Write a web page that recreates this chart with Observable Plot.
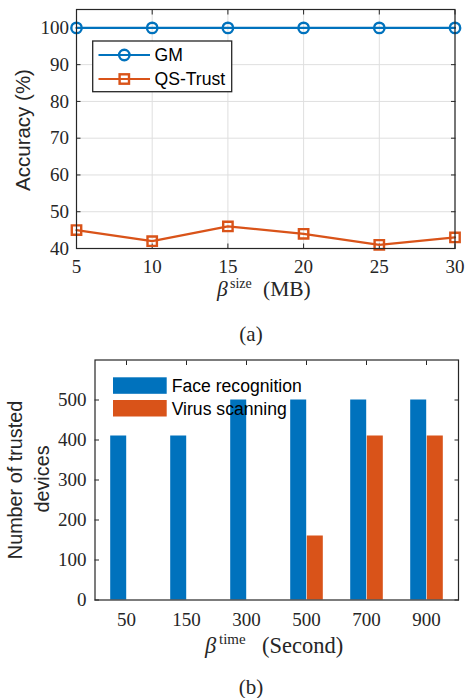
<!DOCTYPE html>
<html><head><meta charset="utf-8">
<script src="https://cdn.jsdelivr.net/npm/d3@7"></script>
<script src="https://cdn.jsdelivr.net/npm/@observablehq/plot@0.6"></script>
<style>
html,body{margin:0;padding:0;background:#fff}
body{width:465px;height:698px;position:relative;overflow:hidden}
#a{position:absolute;left:0;top:0}
#b{position:absolute;left:0;top:340px}
.cap{position:absolute;z-index:5;left:232px;width:38px;text-align:center;font-family:"Liberation Serif",serif;font-size:21px;line-height:24px;color:#262626}
svg text{fill:#262626}
</style></head>
<body>
<div id="a"></div>
<div id="b"></div>
<div class="cap" style="top:322px">(a)</div>
<div class="cap" style="top:675px">(b)</div>
<script>
// ---- data: chart (a)
const sizes = [5, 10, 15, 20, 25, 30];
const gmAccuracy = [100, 100, 100, 100, 100, 100];
const qsAccuracy = [45, 42, 46, 44, 41, 43];
const yTicksA = [40, 50, 60, 70, 80, 90, 100];
const seriesA = ["GM", "QS-Trust"];
// ---- data: chart (b)
const times = ["50", "150", "300", "500", "700", "900"];
const faceRecognition = [410, 410, 500, 500, 500, 500];
const virusScanning = [0, 0, 0, 160, 410, 410];
const yTicksB = [0, 100, 200, 300, 400, 500];
const seriesB = ["Face recognition", "Virus scanning"];

const blue = "#0072BD", orange = "#D95319", ink = "#262626";
const serif = "Liberation Serif, serif", sans = "Liberation Sans, Arial, sans-serif";

function betaLabel(s, x0, y, main, sup, unit, supStart, unitStart, fs, sfs, rise) {
  s.append("text").attr("x", x0).attr("y", y).attr("text-anchor", "start")
    .attr("font-family", serif).attr("font-size", fs).attr("font-style", "italic").text(main);
  s.append("text").attr("x", supStart).attr("y", y - rise).attr("text-anchor", "start")
    .attr("font-family", serif).attr("font-size", sfs).text(sup);
  s.append("text").attr("x", unitStart).attr("y", y).attr("text-anchor", "start")
    .attr("font-family", serif).attr("font-size", fs).text(unit);
}

// ===== Chart (a)
const gm = sizes.map((s, i) => ({x: s, y: gmAccuracy[i]}));
const qs = sizes.map((s, i) => ({x: s, y: qsAccuracy[i]}));
const chartA = Plot.plot({
  width: 465, height: 305,
  marginLeft: 76, marginRight: 10.5, marginTop: 9, marginBottom: 57,
  x: {domain: [5, 30], label: null},
  y: {domain: [40, 105], label: null},
  style: {fontFamily: serif, fontSize: "19px", color: ink, background: "transparent", overflow: "visible"},
  marks: [
    Plot.gridX(sizes, {stroke: "#dfdfdf", strokeOpacity: 1}),
    Plot.gridY(yTicksA, {stroke: "#dfdfdf", strokeOpacity: 1}),
    Plot.axisX(sizes, {anchor: "bottom", tickSize: -4.5, tickPadding: 15.5, label: null, stroke: ink}),
    Plot.axisX(sizes, {anchor: "top", tickSize: -4.5, tickFormat: () => "", label: null, stroke: ink}),
    Plot.axisY(yTicksA, {anchor: "left", tickSize: -4.5, tickPadding: 12, label: null, stroke: ink}),
    Plot.axisY(yTicksA, {anchor: "right", tickSize: -4.5, tickFormat: () => "", label: null, stroke: ink}),
    Plot.line(gm, {x: "x", y: "y", stroke: blue, strokeWidth: 2.2}),
    Plot.dot(gm, {x: "x", y: "y", stroke: blue, strokeWidth: 2.4, r: 5.2, fill: "none"}),
    Plot.line(qs, {x: "x", y: "y", stroke: orange, strokeWidth: 2.2}),
    Plot.dot(qs, {x: "x", y: "y", symbol: "square", stroke: orange, strokeWidth: 2.4, r: 5.3, fill: "none"}),
    Plot.frame({stroke: ink, strokeWidth: 1.2})
  ]
});
{
  const s = d3.select(chartA);
  s.append("text").attr("transform", "translate(22,130) rotate(-90)")
    .attr("text-anchor", "middle").attr("dominant-baseline", "central")
    .attr("font-family", sans).attr("font-size", 20.5).text("Accuracy (%)");
  betaLabel(s, 217, 296, "β", "size", "(MB)", 230, 263, 21.5, 14, 8);
  const g = s.append("g");
  g.append("rect").attr("x", 92.7).attr("y", 41).attr("width", 139).attr("height", 50.7)
    .attr("fill", "white").attr("stroke", ink).attr("stroke-width", 1.3);
  const rows = [{y: 55, c: blue, sym: "circle"}, {y: 79, c: orange, sym: "square"}];
  rows.forEach((r, i) => {
    g.append("line").attr("x1", 98.5).attr("x2", 150).attr("y1", r.y).attr("y2", r.y)
      .attr("stroke", r.c).attr("stroke-width", 2.2);
    if (r.sym === "circle") g.append("circle").attr("cx", 124.3).attr("cy", r.y).attr("r", 5.2)
      .attr("fill", "none").attr("stroke", r.c).attr("stroke-width", 2.4);
    else g.append("rect").attr("x", 124.3 - 4.7).attr("y", r.y - 4.7).attr("width", 9.4).attr("height", 9.4)
      .attr("fill", "none").attr("stroke", r.c).attr("stroke-width", 2.4);
    g.append("text").attr("x", 154.5).attr("y", r.y).attr("text-anchor", "start").attr("dominant-baseline", "central")
      .attr("font-family", sans).attr("font-size", 17.6).style("fill", "#000").text(seriesA[i]);
  });
}
document.getElementById("a").append(chartA);

// ===== Chart (b)
const faceBars = times.map((t, i) => ({time: t, value: faceRecognition[i]}));
const virusBars = times.map((t, i) => ({time: t, value: virusScanning[i]}));
const chartB = Plot.plot({
  width: 465, height: 325,
  marginLeft: 94.5, marginRight: 7, marginTop: 19.5, marginBottom: 65.5,
  x: {domain: times, padding: 0, label: null},
  y: {domain: [0, 600], label: null},
  style: {fontFamily: serif, fontSize: "19px", color: ink, background: "transparent", overflow: "visible"},
  marks: [
    Plot.barY(faceBars, {x: "time", y: "value", fill: blue, insetLeft: 14.2, insetRight: 29.8}),
    Plot.barY(virusBars, {x: "time", y: "value", fill: orange, insetLeft: 30.8, insetRight: 13.2}),
    Plot.axisX(times, {anchor: "bottom", tickSize: 0, tickPadding: 12, label: null}),
    Plot.axisX(times, {anchor: "top", tickSize: -4.5, tickFormat: () => "", label: null, stroke: ink}),
    Plot.axisY(yTicksB, {anchor: "left", tickSize: -4.5, tickPadding: 13, label: null, stroke: ink}),
    Plot.axisY(yTicksB, {anchor: "right", tickSize: -4.5, tickFormat: () => "", label: null, stroke: ink}),
    Plot.frame({stroke: ink, strokeWidth: 1.2})
  ]
});
{
  const s = d3.select(chartB);
  s.append("text").attr("transform", "translate(15,140) rotate(-90)")
    .attr("text-anchor", "middle").attr("dominant-baseline", "central")
    .attr("font-family", sans).attr("font-size", 19.8).text("Number of trusted");
  s.append("text").attr("transform", "translate(41.7,139) rotate(-90)")
    .attr("text-anchor", "middle").attr("dominant-baseline", "central")
    .attr("font-family", sans).attr("font-size", 19.8).text("devices");
  betaLabel(s, 205, 313, "β", "time", "(Second)", 219, 262, 22.5, 15, 9);
  const g = s.append("g");
  [{y: 37.3, c: blue, ty: 46}, {y: 60, c: orange, ty: 68.5}].forEach((r, i) => {
    g.append("rect").attr("x", 113).attr("y", r.y).attr("width", 53.7).attr("height", 16.5).attr("fill", r.c);
    g.append("text").attr("x", 171.7).attr("y", r.ty).attr("text-anchor", "start").attr("dominant-baseline", "central")
      .attr("font-family", sans).attr("font-size", 17.6).style("fill", "#000").text(seriesB[i]);
  });
}
document.getElementById("b").append(chartB);
</script>
</body></html>
